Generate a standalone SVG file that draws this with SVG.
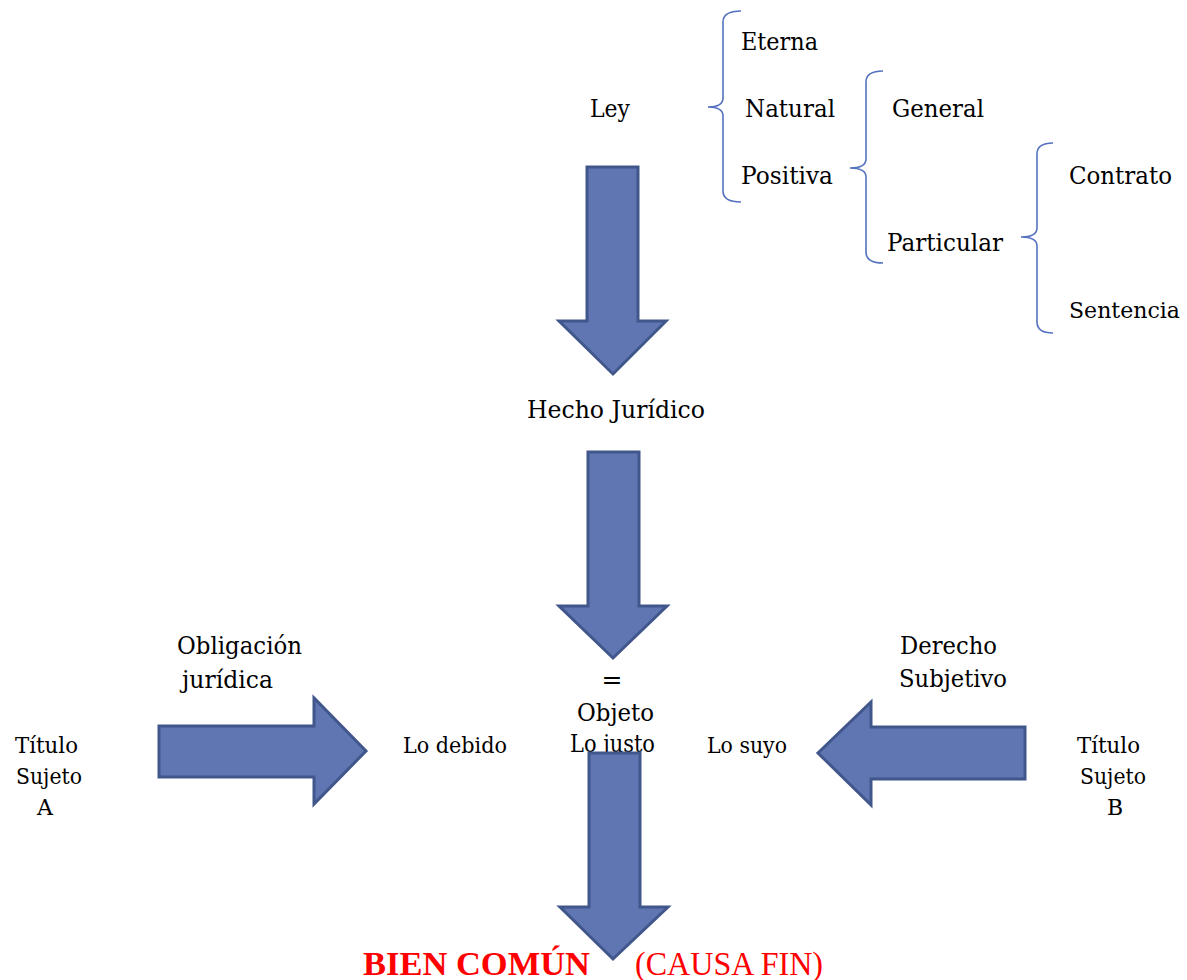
<svg xmlns="http://www.w3.org/2000/svg" width="1187" height="980" viewBox="0 0 1187 980">
<style>
  .t { font-family: "DejaVu Serif", "Liberation Serif", serif; font-size: 25px; fill: #000; }
  .s { font-family: "DejaVu Serif", "Liberation Serif", serif; font-size: 22px; fill: #000; }
  .red { font-family: "Liberation Serif", "Times New Roman", serif; font-size: 33px; fill: #ff0000; }
  .arrow { fill: #5f76b2; stroke: #41568a; stroke-width: 3; stroke-linejoin: miter; }
  .brace { fill: none; stroke: #5572c0; stroke-width: 1.6; }
</style>
<rect width="1187" height="980" fill="#fff"/>

<g id="ley"><text class="t" x="590" y="117" textLength="40" lengthAdjust="spacingAndGlyphs">Ley</text></g>
<g id="eterna"><text class="t" x="741" y="50" textLength="77" lengthAdjust="spacingAndGlyphs">Eterna</text></g>
<g id="natural"><text class="t" x="745" y="117" textLength="90" lengthAdjust="spacingAndGlyphs">Natural</text></g>
<g id="positiva"><text class="t" x="741" y="184" textLength="92" lengthAdjust="spacingAndGlyphs">Positiva</text></g>
<g id="general"><text class="t" x="892" y="117" textLength="92" lengthAdjust="spacingAndGlyphs">General</text></g>
<g id="particular"><text class="t" x="887" y="251" textLength="116" lengthAdjust="spacingAndGlyphs">Particular</text></g>
<g id="contrato"><text class="t" x="1069" y="184" textLength="103" lengthAdjust="spacingAndGlyphs">Contrato</text></g>
<g id="sentencia"><text class="t" x="1069" y="318" style="font-size:22.5px" textLength="111" lengthAdjust="spacingAndGlyphs">Sentencia</text></g>
<g id="hecho"><text class="t" x="527" y="418" textLength="178" lengthAdjust="spacingAndGlyphs">Hecho Jurídico</text></g>
<g id="obligacion">
  <text class="t" x="177" y="654" textLength="125" lengthAdjust="spacingAndGlyphs">Obligación</text>
  <text class="t" x="182" y="688" textLength="91" lengthAdjust="spacingAndGlyphs">jurídica</text>
</g>
<g id="derecho">
  <text class="t" x="900" y="654" textLength="97" lengthAdjust="spacingAndGlyphs">Derecho</text>
  <text class="t" x="899" y="687" textLength="108" lengthAdjust="spacingAndGlyphs">Subjetivo</text>
</g>
<g id="objeto">
  <text class="t" x="612" y="688" text-anchor="middle">=</text>
  <text class="t" x="577" y="721" textLength="77" lengthAdjust="spacingAndGlyphs">Objeto</text>
  <text class="t" x="570" y="752" textLength="85" lengthAdjust="spacingAndGlyphs">Lo justo</text>
</g>
<g id="lo-debido"><text class="s" x="403" y="753" textLength="104" lengthAdjust="spacingAndGlyphs">Lo debido</text></g>
<g id="lo-suyo"><text class="s" x="707" y="753" textLength="80" lengthAdjust="spacingAndGlyphs">Lo suyo</text></g>
<g id="sujeto-a">
  <text class="s" x="15" y="753" textLength="63" lengthAdjust="spacingAndGlyphs">Título</text>
  <text class="s" x="16" y="784" textLength="66" lengthAdjust="spacingAndGlyphs">Sujeto</text>
  <text class="s" x="45" y="815" text-anchor="middle">A</text>
</g>
<g id="sujeto-b">
  <text class="s" x="1077" y="753" textLength="63" lengthAdjust="spacingAndGlyphs">Título</text>
  <text class="s" x="1080" y="784" textLength="66" lengthAdjust="spacingAndGlyphs">Sujeto</text>
  <text class="s" x="1115" y="815" text-anchor="middle">B</text>
</g>

<g id="connectors">
  <path class="brace" d="M741,11 Q723,11 723,22 L723,98 Q723,107 708,107 Q723,107 723,116 L723,191 Q723,202 741,202"/>
  <path class="brace" d="M883,71 Q866,71 866,82 L866,159 Q866,168 850,168 Q866,168 866,177 L866,252 Q866,263 883,263"/>
  <path class="brace" d="M1053,143 Q1037,143 1037,154 L1037,228 Q1037,237 1021,237 Q1037,237 1037,246 L1037,322 Q1037,333 1053,333"/>
  <polygon class="arrow" points="587,167 638,167 638,321 666,321 613,374 559,321 587,321"/>
  <polygon class="arrow" points="588,452 639,452 639,606 667,606 613,658 559,606 588,606"/>
  <polygon class="arrow" points="589,753 640,753 640,907 668,907 613,959 560,907 589,907"/>
  <polygon class="arrow" points="159,726 314,726 314,698 366,751 314,804 314,777 159,777"/>
  <polygon class="arrow" points="1025,727 871,727 871,702 818,753 871,805 871,779 1025,779"/>
</g>

<g id="bien-comun">
  <text class="red" x="363" y="975" font-weight="bold" textLength="227" lengthAdjust="spacingAndGlyphs">BIEN COMÚN</text>
  <text class="red" x="635" y="975" textLength="188" lengthAdjust="spacingAndGlyphs">(CAUSA FIN)</text>
</g>
</svg>
